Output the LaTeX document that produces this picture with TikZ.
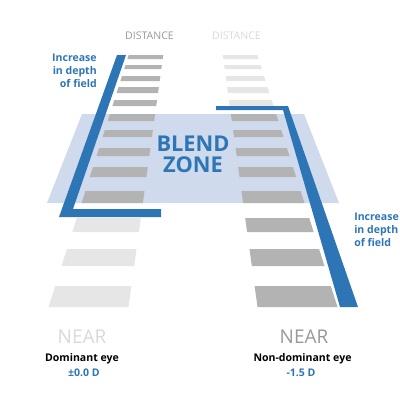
\documentclass[tikz,border=0pt]{standalone}
\usepackage{fontspec}
\setmainfont{Open Sans}
\definecolor{depthblue}{HTML}{2E75B6}
\definecolor{zonefill}{HTML}{CFDAED}
\definecolor{bardark}{HTML}{B3B3B3}
\definecolor{barlight}{HTML}{E6E6E6}
\definecolor{txtdark}{HTML}{999999}
\definecolor{txtlight}{HTML}{D9D9D9}
\tikzset{
	sharpbar/.style={fill=bardark},
	faintbar/.style={fill=barlight},
	depthline/.style={fill=depthblue},
	tag/.style={inner sep=0pt, anchor=north},
	smallbold/.style={font=\bfseries\fontsize{7.5}{9}\selectfont},
	zonetext/.style={tag, font=\bfseries\fontsize{15.5}{16}\selectfont, text=depthblue},
}
\begin{document}
\begin{tikzpicture}[x=0.25mm,y=-0.25mm]
		\useasboundingbox (0,0) rectangle (400,400);
		% blend zone
		\fill[zonefill] (82,114) -- (304,114) -- (339,203) -- (47,203) -- cycle;
		
		% dominant eye
		\fill[sharpbar] (128.6,55) -- (163.3,55) -- (162.7,59) -- (127.4,59) -- cycle;
		\fill[sharpbar] (125.5,65) -- (161.9,65) -- (161.3,69) -- (124.2,69) -- cycle;
		\fill[sharpbar] (122.0,76) -- (160.4,76) -- (159.7,81) -- (120.4,81) -- cycle;
		\fill[sharpbar] (118.5,87) -- (158.9,87) -- (158.0,93) -- (116.6,93) -- cycle;
		\fill[sharpbar] (114.3,100) -- (157.1,100) -- (156.2,106) -- (112.4,106) -- cycle;
		\fill[sharpbar] (109.9,114) -- (155.1,114) -- (154.2,121) -- (107.6,121) -- cycle;
		\fill[sharpbar] (104.8,130) -- (152.9,130) -- (152.0,137) -- (102.6,137) -- cycle;
		\fill[sharpbar] (99.1,148) -- (150.4,148) -- (149.3,156) -- (96.5,156) -- cycle;
		\fill[sharpbar] (93.0,167) -- (147.8,167) -- (146.4,177) -- (89.8,177) -- cycle;
		\fill[sharpbar] (85.4,191) -- (144.5,191) -- (142.9,203) -- (81.6,203) -- cycle;
		\fill[faintbar] (76.8,218) -- (140.8,218) -- (138.9,232) -- (72.3,232) -- cycle;
		\fill[faintbar] (66.9,249) -- (136.5,249) -- (134.2,266) -- (61.5,266) -- cycle;
		\fill[faintbar] (55.2,286) -- (131.4,286) -- (128.5,307) -- (48.5,307) -- cycle;
		
		% non-dominant eye
		\fill[faintbar] (222.7,55) -- (257.4,55) -- (258.6,59) -- (223.3,59) -- cycle;
		\fill[faintbar] (224.1,65) -- (260.5,65) -- (261.8,69) -- (224.7,69) -- cycle;
		\fill[faintbar] (225.6,76) -- (264.0,76) -- (265.6,81) -- (226.3,81) -- cycle;
		\fill[faintbar] (227.1,87) -- (267.5,87) -- (269.4,93) -- (228.0,93) -- cycle;
		\fill[faintbar] (228.9,100) -- (271.7,100) -- (273.6,106) -- (229.8,106) -- cycle;
		\fill[sharpbar] (230.9,114) -- (276.1,114) -- (278.4,121) -- (231.8,121) -- cycle;
		\fill[sharpbar] (233.1,130) -- (281.2,130) -- (283.4,137) -- (234.0,137) -- cycle;
		\fill[sharpbar] (235.6,148) -- (286.9,148) -- (289.5,156) -- (236.7,156) -- cycle;
		\fill[sharpbar] (238.2,167) -- (293.0,167) -- (296.2,177) -- (239.6,177) -- cycle;
		\fill[sharpbar] (241.5,191) -- (300.6,191) -- (304.4,203) -- (243.1,203) -- cycle;
		\fill[sharpbar] (245.2,218) -- (309.2,218) -- (313.7,232) -- (247.1,232) -- cycle;
		\fill[sharpbar] (249.5,249) -- (319.1,249) -- (324.5,266) -- (251.8,266) -- cycle;
		\fill[sharpbar] (254.6,286) -- (330.8,286) -- (337.5,307) -- (257.5,307) -- cycle;
		
		% depth of field lines
		\fill[depthline] (117,55) -- (126,55) -- (73,209) -- (161,209) -- (161,217) -- (59,217) -- cycle;
		\fill[depthline] (216,106) -- (288,106) -- (358,307) -- (340,307) -- (283,110) -- (216,110) -- cycle;
		
		\node[zonetext] (blend) at (193,136) {BLEND};
		\node[zonetext] (zone) at (193,156.5) {ZONE};
		\node[tag, smallbold, anchor=north east, align=right, text=depthblue] (dofl) at (97,54) {Increase\\in depth\\of field};
		\node[tag, smallbold, anchor=north west, align=left, text=depthblue] (dofr) at (354,213) {Increase\\in depth\\of field};
		
		\node[tag, font=\fontsize{7.5}{9}\selectfont, text=txtdark] (farl) at (149.5,32) {DISTANCE};
		\node[tag, font=\fontsize{7.5}{9}\selectfont, text=txtlight] (farr) at (236.5,32) {DISTANCE};
		\node[tag, font=\fontsize{13.5}{16}\selectfont, text=txtlight] (nearl) at (82,330) {NEAR};
		\node[tag, font=\fontsize{13.5}{16}\selectfont, text=txtdark] (nearr) at (304,330) {NEAR};
		
		\node[tag, smallbold] (eyel) at (82,353) {Dominant eye};
		\node[tag, smallbold, text=depthblue] (powl) at (84,369) {±0.0 D};
		\node[tag, smallbold] (eyer) at (302.5,353) {Non-dominant eye};
		\node[tag, smallbold, text=depthblue] (powr) at (301,369) {-1.5 D};
	\end{tikzpicture}
\end{document}
